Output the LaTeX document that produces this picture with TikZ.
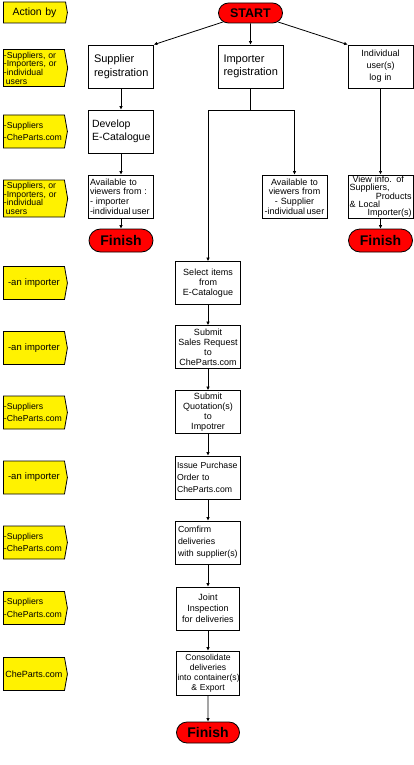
\documentclass[tikz,border=0pt]{standalone}
\usepackage{fontspec}
\setmainfont{Liberation Sans}
\usetikzlibrary{arrows.meta,shapes.symbols,shapes.misc}
\hyphenpenalty=10000
\exhyphenpenalty=10000

\begin{document}
\begin{tikzpicture}[x=1pt,y=-1pt,
	tag/.style={signal, signal to=east, signal pointer angle=160, draw, fill=yellow, line width=0.8pt, anchor=west, minimum width=64pt, minimum height=33pt, text width=60pt, inner xsep=0.5pt, inner ysep=0pt, align=left, font=\fontsize{8.7}{8.7}\selectfont},
	box/.style={draw, fill=white, line width=0.8pt, minimum width=65pt, minimum height=43pt, text width=62pt, inner sep=1pt, align=center, font=\fontsize{9}{10}\selectfont},
	term/.style={rounded rectangle, draw, fill=red, line width=0.8pt, minimum width=64pt, minimum height=22pt, inner sep=0pt, font=\bfseries\fontsize{14}{14}\selectfont},
	flow/.style={-{Latex[length=3.5pt,width=3.5pt]}, line width=0.8pt}]
		\useasboundingbox (0,0) rectangle (414,765);
		% action by column
		\node[tag, minimum height=21pt, align=center, font=\fontsize{10.5}{11}\selectfont] (actby) at (3,12.5) {Action by};
		\node[tag, minimum height=37pt] (tagA) at (3,68) {-Suppliers, or\\-Importers, or\\-individual\\\hspace*{2pt}users};
		\node[tag, font=\fontsize{8.7}{12.3}\selectfont] (tagB) at (3,131.5) {-Suppliers\\-CheParts.com};
		\node[tag, minimum height=37pt] (tagC) at (3,198.5) {-Suppliers, or\\-Importers, or\\-individual\\\hspace*{2pt}users};
		\node[tag, align=center, font=\fontsize{9.5}{11}\selectfont] (tagD) at (3,283) {-an importer};
		\node[tag, align=center, font=\fontsize{9.5}{11}\selectfont] (tagE) at (3,348) {-an importer};
		\node[tag, font=\fontsize{8.7}{12.3}\selectfont] (tagF) at (3,412.5) {-Suppliers\\-CheParts.com};
		\node[tag, align=center, font=\fontsize{9.5}{11}\selectfont] (tagG) at (3,477.5) {-an importer};
		\node[tag, font=\fontsize{8.7}{12.3}\selectfont] (tagH) at (3,542.5) {-Suppliers\\-CheParts.com};
		\node[tag, font=\fontsize{8.7}{12.3}\selectfont] (tagI) at (3,608) {-Suppliers\\-CheParts.com};
		\node[tag, align=center, font=\fontsize{9}{11}\selectfont] (tagJ) at (3,674) {CheParts.com};
		% flow
		\node[term, minimum height=20pt, font=\bfseries\fontsize{12.5}{13}\selectfont] (start) at (250.5,13) {START};
		\node[box, align=left, font=\fontsize{11}{13.5}\selectfont] (supreg) at (121,66.5) {\hspace*{4pt}Supplier\\\hspace*{4pt}registration};
		\node[box, align=left, font=\fontsize{11}{13.5}\selectfont] (impreg) at (250.5,66.5) {\hspace*{4pt}Importer\\\hspace*{4pt}registration};
		\node[box, font=\fontsize{9}{12}\selectfont] (indlog) at (380.5,66.5) {Individual\\user(s)\\log in};
		\node[box, align=left, font=\fontsize{10.5}{13.5}\selectfont] (devcat) at (121,131.5) {\hspace*{2pt}Develop\\\hspace*{2pt}E-Catalogue};
		\node[box, align=left, font=\fontsize{9}{9.7}\selectfont] (avail1) at (121,196.5) {Available to\\viewers from :\\- importer\\-individual\,user};
		\node[box, font=\fontsize{9}{9.7}\selectfont] (avail2) at (294.5,196.5) {Available to\\viewers from\\- Supplier\\-individual\,user};
		\node[box, align=left, font=\fontsize{9}{7.8}\selectfont] (viewinfo) at (380.5,196.5) {\hspace*{3pt}View info. of\\Suppliers,\\\hfill Products\\\& Local\\\hfill Importer(s)};
		\node[term, minimum height=23pt] (fin1) at (121,240.5) {Finish};
		\node[term, minimum height=23pt] (fin2) at (380.5,240.5) {Finish};
		\node[box] (select) at (208,283) {Select items\\from\\E-Catalogue};
		\node[box] (salesreq) at (208,347) {Submit\\Sales Request\\to\\CheParts.com};
		\node[box] (quote) at (208,412) {Submit\\Quotation(s)\\to\\Impotrer};
		\node[box, align=left, font=\fontsize{8.7}{12}\selectfont] (order) at (208,477.5) {Issue Purchase\\Order to\\CheParts.com};
		\node[box, align=left, font=\fontsize{8.8}{12}\selectfont] (confirm) at (208,542.5) {\hspace*{1pt}Comfirm\\\hspace*{1pt}deliveries\\\hspace*{1pt}with supplier(s)};
		\node[box, minimum width=63pt, text width=60pt, font=\fontsize{9}{11}\selectfont] (inspect) at (208,608.5) {Joint\\Inspection\\for deliveries};
		\node[box, minimum width=63pt, text width=61pt, inner xsep=0.5pt, minimum height=44pt, font=\fontsize{8.6}{10}\selectfont] (consol) at (208,673) {Consolidate\\deliveries\\\mbox{into container(s)}\\\& Export};
		\node[term, minimum width=63pt, minimum height=21pt] (fin3) at (208,732.5) {Finish};
		\coordinate (split) at (250.5,110);
		\draw[flow] (start) to (supreg.north east);
		\draw[flow] (start) to (impreg);
		\draw[flow] (start) to (indlog.north west);
		\draw[flow] (supreg) to (devcat);
		\draw[flow] (devcat) to (avail1);
		\draw[flow] (avail1) to (fin1);
		\draw[line width=0.8pt] (impreg) to (split);
		\draw[flow] (split) -| (select);
		\draw[flow] (split) -| (avail2);
		\draw[flow] (indlog) to (viewinfo);
		\draw[flow] (viewinfo) to (fin2);
		\draw[flow] (select) to (salesreq);
		\draw[flow] (salesreq) to (quote);
		\draw[flow] (quote) to (order);
		\draw[flow] (order) to (confirm);
		\draw[flow] (confirm) to (inspect);
		\draw[flow] (inspect) to (consol);
		\draw[flow] (consol) to (fin3);
	\end{tikzpicture}
\end{document}
